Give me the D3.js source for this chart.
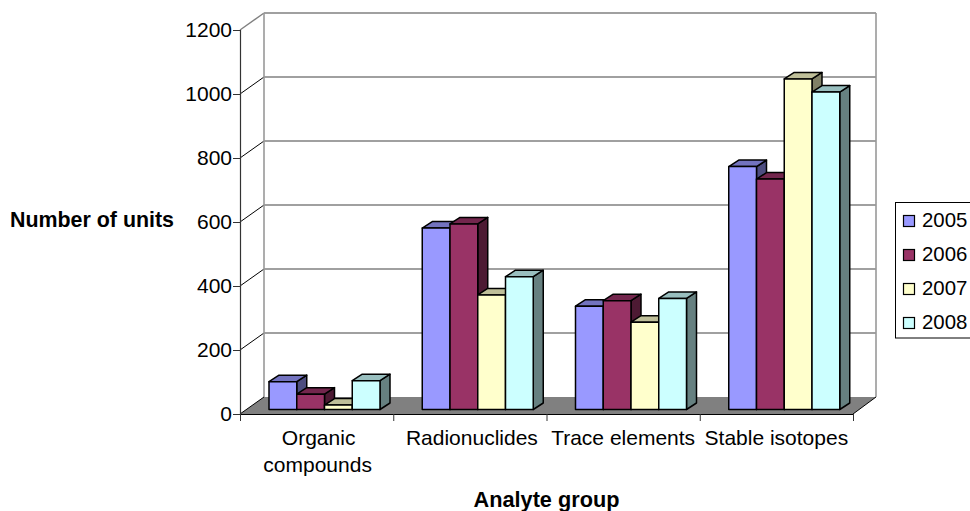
<!DOCTYPE html>
<html><head><meta charset="utf-8">
<script src="https://d3js.org/d3.v7.min.js"></script>
<style>html,body{margin:0;background:#fff}svg{display:block}text{font-family:"Liberation Sans",Arial,sans-serif;fill:#000}</style>
</head><body><svg id="c" width="970" height="511"></svg>
<script>
const categories = ["Organic compounds","Radionuclides","Trace elements","Stable isotopes"];
const years = ["2005","2006","2007","2008"];
const v2005 = [87,567,323,759];
const v2006 = [48,580,340,720];
const v2007 = [14,358,273,1033];
const v2008 = [90,415,347,992];
const colors = ["#9999FF","#993366","#FFFFCC","#CCFFFF"];
const yTicks = [0,200,400,600,800,1000,1200];

const series = [v2005,v2006,v2007,v2008];
const svg = d3.select("#c");
const L=240,R=853,T=30,B=414,dx=24,dy=17, bdx=10, bdy=6.5, barBase=4.5;
const y = d3.scaleLinear().domain([0,1200]).range([B,T]);
const x0 = d3.scaleBand().domain(categories).range([L,R]);
const x1 = d3.scaleBand().domain(years).range([29,140]);
const line=(x1_,y1_,x2_,y2_,c,w)=>svg.append("line").attr("x1",x1_).attr("y1",y1_).attr("x2",x2_).attr("y2",y2_).attr("stroke",c).attr("stroke-width",w);

// floor
svg.append("polygon").attr("fill","#808080")
  .attr("points",[[L,B],[L+dx,B-dy],[R+dx-1,B-dy],[R,B]].join(" "));
// walls & gridlines
yTicks.forEach(t=>{
  const yy=y(t);
  if(t>0){
    line(L+dx,yy-dy,R+dx-1,yy-dy,"#808080",1.6);
    line(L,yy,L+dx,yy-dy,t===1200?"#808080":"#000",t===1200?1.4:1);
  }
});
line(L+dx,y(1200)-dy,L+dx,y(0)-dy,"#999",1.6);
line(R+dx-1,y(1200)-dy,R+dx-1,y(0)-dy,"#999",1.6);
line(R,B,R+dx-1,B-dy,"#000",1);
line(L,B,L+dx,B-dy,"#000",1);

// bars
const shade=(c,k)=>{const r=d3.rgb(c);return d3.rgb(r.r*k,r.g*k,r.b*k).formatHex();};
categories.forEach((cat,i)=>{
  years.forEach((yr,s)=>{
    const v=series[s][i];
    const x=x0(cat)+x1(yr), w=x1.bandwidth(), top=y(v)-barBase, bot=y(0)-barBase;
    const g=svg.append("g").attr("stroke","#000").attr("stroke-width",1.5).attr("stroke-linejoin","round");
    g.append("polygon").attr("fill",shade(colors[s],0.5))
      .attr("points",[[x+w,top],[x+w+bdx,top-bdy],[x+w+bdx,bot-bdy],[x+w,bot]].join(" "));
    g.append("polygon").attr("fill",shade(colors[s],0.75))
      .attr("points",[[x,top],[x+bdx,top-bdy],[x+w+bdx,top-bdy],[x+w,top]].join(" "));
    g.append("rect").attr("x",x).attr("y",top).attr("width",w).attr("height",bot-top).attr("fill",colors[s]);
  });
});

// axes
const yAxis=d3.axisLeft(y).tickValues(yTicks).tickSize(7).tickPadding(1).tickFormat(d3.format("d"));
const gy=svg.append("g").attr("transform",`translate(${L},0)`).call(yAxis);
gy.selectAll("text").style("font-size","21px");
gy.select(".domain").attr("d",`M0.5,${T}V${B}`).attr("stroke","#333").attr("stroke-width",1.2);
gy.selectAll(".tick line").attr("stroke","#333");

const tickPos=categories.map(c=>x0(c)).concat([R]);
const gx=svg.append("g").attr("transform",`translate(0,${B})`);
const xAxis=d3.axisBottom(d3.scaleLinear().domain([L,R]).range([L,R])).tickValues(tickPos).tickSize(7).tickFormat("");
gx.call(xAxis);
gx.select(".domain").attr("d",`M${L},0.5H${R}`).attr("stroke","#000").attr("stroke-width",1.2);
gx.selectAll(".tick line").attr("stroke","#333");

const labels=[["Organic","compounds"],["Radionuclides"],["Trace elements"],["Stable isotopes"]];
const labelDx=[[2,1],[2],[0],[0]];
categories.forEach((c,i)=>{
  const cx=x0(c)+x0.bandwidth()/2;
  labels[i].forEach((t,j)=>svg.append("text").attr("x",cx+labelDx[i][j]).attr("y",445+j*27).attr("text-anchor","middle").style("font-size","21px").text(t));
});
svg.append("text").attr("x",10).attr("y",227).style("font-size","21.4px").style("font-weight","bold").text("Number of units");
svg.append("text").attr("x",546.5).attr("y",507).attr("text-anchor","middle").style("font-size","21.7px").style("font-weight","bold").text("Analyte group");

// legend
svg.append("rect").attr("x",895.5).attr("y",202.5).attr("width",80).attr("height",135.5).attr("fill","#fff").attr("stroke","#000").attr("stroke-width",1);
const ly=d3.scalePoint().domain(years).range([221,323]);
years.forEach((yr,s)=>{
  svg.append("rect").attr("x",903.5).attr("y",ly(yr)-5.5).attr("width",11).attr("height",11).attr("fill",colors[s]).attr("stroke","#000").attr("stroke-width",1.2);
  svg.append("text").attr("x",922).attr("y",ly(yr)+6).style("font-size","20.4px").text(yr);
});
</script></body></html>
